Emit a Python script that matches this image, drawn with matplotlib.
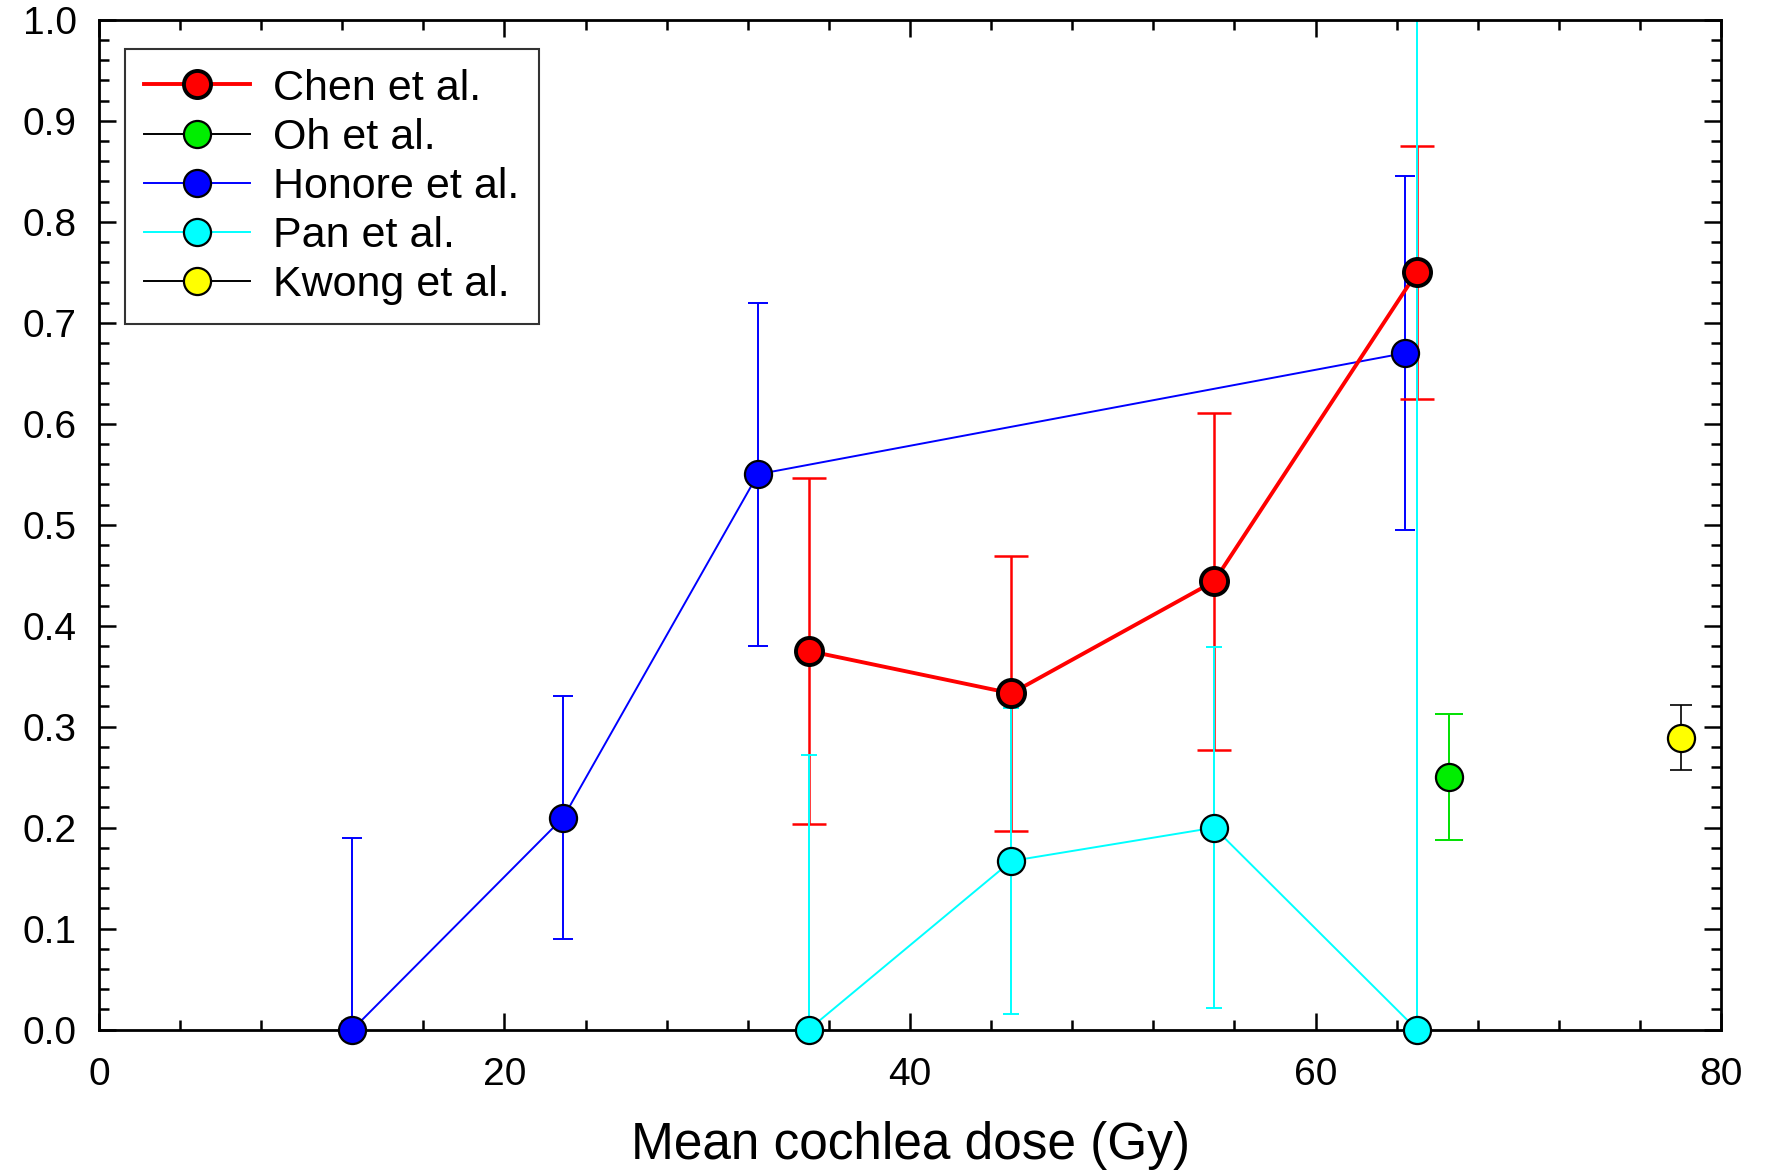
import numpy as np
import matplotlib
matplotlib.use("Agg")
import matplotlib.pyplot as plt
from matplotlib.lines import Line2D
from matplotlib.ticker import MultipleLocator

plt.rcParams['font.family'] = ['Liberation Sans', 'DejaVu Sans']

# Chen et al.
chen_x = [35, 45, 55, 65]
chen_y = [0.375, 0.333, 0.444, 0.75]
chen_lo = [0.204, 0.197, 0.277, 0.625]
chen_hi = [0.546, 0.469, 0.611, 0.875]

# Honore et al.
hon_x = [12.5, 22.9, 32.5, 64.4]
hon_y = [0.0, 0.21, 0.55, 0.67]
hon_lo = [0.0, 0.09, 0.38, 0.495]
hon_hi = [0.19, 0.33, 0.72, 0.845]

# Pan et al.
pan_x = [35, 45, 55, 65]
pan_y = [0.0, 0.167, 0.2, 0.0]
pan_lo = [0.0, 0.015, 0.021, 0.0]
pan_hi = [0.272, 0.319, 0.379, 1.2]

# Oh et al.
oh_x = [66.6]
oh_y = [0.25]
oh_lo = [0.1875]
oh_hi = [0.3125]

# Kwong et al.
kw_x = [78.0]
kw_y = [0.289]
kw_lo = [0.257]
kw_hi = [0.321]

fig = plt.figure(figsize=(17.67, 11.7), dpi=100)
ax = fig.add_axes([0.056, 0.12, 0.918, 0.863])


def err(x, y, lo, hi, color, lw, cap, z):
    y = np.array(y)
    yerr = [y - np.array(lo), np.array(hi) - y]
    ax.errorbar(x, y, yerr=yerr, fmt='none', ecolor=color, elinewidth=lw,
                capsize=cap, capthick=lw, zorder=z)


err(hon_x, hon_y, hon_lo, hon_hi, 'blue', 1.4, 7, 2)
err(chen_x, chen_y, chen_lo, chen_hi, 'red', 1.8, 12, 2)
err(pan_x, pan_y, pan_lo, pan_hi, 'cyan', 1.4, 6, 2.5)
err(oh_x, oh_y, oh_lo, oh_hi, '#00e000', 1.4, 10, 2)
err(kw_x, kw_y, kw_lo, kw_hi, 'black', 1.2, 8, 2)

ms = 19.5
ax.plot(hon_x, hon_y, '-', color='blue', lw=1.4, zorder=3)
ax.plot(pan_x, pan_y, '-', color='cyan', lw=1.4, zorder=3)
ax.plot(chen_x, chen_y, '-', color='red', lw=2.8, zorder=3)
ax.plot(hon_x, hon_y, 'o', mfc='blue', mec='black', ms=ms, mew=1.6, zorder=4, clip_on=False)
ax.plot(pan_x, pan_y, 'o', mfc='cyan', mec='black', ms=ms, mew=1.6, zorder=4, clip_on=False)
ax.plot(chen_x, chen_y, 'o', mfc='red', mec='black', ms=ms, mew=2.8, zorder=5, clip_on=False)
ax.plot(oh_x, oh_y, 'o', mfc='#00ee00', mec='black', ms=ms, mew=1.6, zorder=4)
ax.plot(kw_x, kw_y, 'o', mfc='yellow', mec='black', ms=ms, mew=1.6, zorder=4)

ax.set_xlim(0, 80)
ax.set_ylim(0, 1.0)
ax.xaxis.set_major_locator(MultipleLocator(20))
ax.xaxis.set_minor_locator(MultipleLocator(4))
ax.yaxis.set_major_locator(MultipleLocator(0.1))
ax.yaxis.set_minor_locator(MultipleLocator(0.02))
ax.yaxis.set_major_formatter(plt.FormatStrFormatter('%.1f'))
ax.tick_params(which='both', direction='in', top=True, right=True, width=1.8)
ax.tick_params(which='major', length=12)
ax.tick_params(which='minor', length=7)
ax.tick_params(axis='x', which='major', labelsize=28, pad=20)
ax.tick_params(axis='y', which='major', labelsize=28, pad=16)
for s in ax.spines.values():
    s.set_linewidth(2)

ax.set_xlabel('Mean cochlea dose (Gy)', fontsize=37, labelpad=20)

handles = [
    Line2D([], [], color='red', lw=2.8, marker='o', ms=ms, mfc='red', mec='black', mew=2.8),
    Line2D([], [], color='black', lw=1.4, marker='o', ms=ms, mfc='#00ee00', mec='black', mew=1.6),
    Line2D([], [], color='blue', lw=1.4, marker='o', ms=ms, mfc='blue', mec='black', mew=1.6),
    Line2D([], [], color='cyan', lw=1.4, marker='o', ms=ms, mfc='cyan', mec='black', mew=1.6),
    Line2D([], [], color='black', lw=1.4, marker='o', ms=ms, mfc='yellow', mec='black', mew=1.6),
]
labels = ['Chen et al.', 'Oh et al.', 'Honore et al.', 'Pan et al.', 'Kwong et al.']
leg = ax.legend(handles, labels, loc='upper left', bbox_to_anchor=(0.016, 0.971),
                borderaxespad=0, fontsize=31, frameon=True, fancybox=False,
                edgecolor='black', handlelength=2.45, labelspacing=0.21,
                borderpad=0.45, handletextpad=0.55)
leg.get_frame().set_linewidth(1.5)

fig.savefig('out.png', dpi=100)
